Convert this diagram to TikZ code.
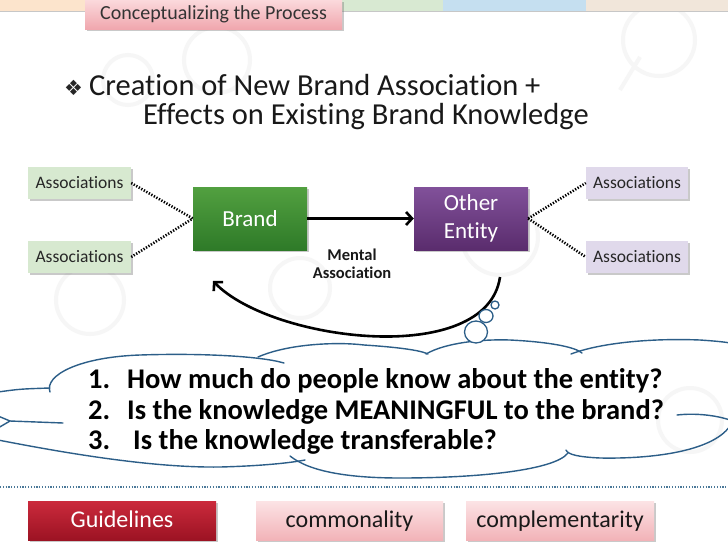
\documentclass[tikz,border=0pt]{standalone}
\usepackage{fontspec}
\setmainfont{Carlito}[Ligatures=NoCommon]
\newfontfamily\symfont{DejaVu Sans}
\usetikzlibrary{arrows.meta,shadows}
\definecolor{stripO}{HTML}{FCE4CC}
\definecolor{stripG}{HTML}{D8E9D2}
\definecolor{stripB}{HTML}{C5DFF0}
\definecolor{stripE}{HTML}{F1E6DA}
\definecolor{tabTop}{HTML}{FBD9DC}
\definecolor{tabBot}{HTML}{F0A7AE}
\definecolor{brandTop}{HTML}{52A040}
\definecolor{brandBot}{HTML}{2E7A28}
\definecolor{otherTop}{HTML}{81519A}
\definecolor{otherBot}{HTML}{5A2C6D}
\definecolor{assocG}{HTML}{D7E9D0}
\definecolor{assocP}{HTML}{E0D9EB}
\definecolor{guideTop}{HTML}{CB2A3C}
\definecolor{guideBot}{HTML}{9C1323}
\definecolor{pinkTop}{HTML}{FCE3E5}
\definecolor{pinkBot}{HTML}{F2B3B8}
\definecolor{cloudBlue}{HTML}{2C5E88}
\definecolor{decor}{HTML}{F6F6F6}
\definecolor{dotBlue}{HTML}{4A7898}
\tikzset{
  shad/.style={drop shadow={shadow xshift=1.5pt,shadow yshift=-1.5pt,opacity=0.35,fill=black!60}},
  assocbox/.style={shad,minimum height=32pt,inner sep=0pt,text height=11pt,text depth=1pt,font=\fontsize{17.5}{20}\selectfont,text=black!85},
  assocL/.style={assocbox,fill=assocG,minimum width=103pt},
  assocR/.style={assocbox,fill=assocP,minimum width=102pt},
  bigbox/.style={shad,minimum width=114pt,minimum height=63pt,inner sep=0pt,text=white,align=center,font=\fontsize{23}{28}\selectfont},
  botbox/.style={shad,minimum width=188pt,minimum height=39pt,inner sep=0pt,text height=15pt,text depth=2pt,font=\fontsize{24}{28}\selectfont},
  dotline/.style={line width=2.6pt,dash pattern=on 1.3pt off 1.6pt,black},
  thickarrow/.style={line width=2.6pt,-{Straight Barb[length=6pt,width=13pt,line width=2.6pt]}},
  cloudline/.style={cloudBlue,line width=1.4pt,line cap=round},
  bubble/.style={cloudBlue,line width=1.3pt,fill=white},
  qtext/.style={anchor=base west,inner sep=0pt,font=\bfseries\fontsize{28.5}{32}\selectfont}
}
\begin{document}
\begin{tikzpicture}[x=1pt,y=-1pt]
\useasboundingbox (0,0) rectangle (728,546);
\fill[white] (0,0) rectangle (728,546);
% faint background decoration
\begin{scope}[decor,line width=4pt]
\draw (217,60) circle (33pt);
\draw (128,80) circle (25pt);
\draw (659,40) circle (36pt);
\draw (640,57) -- (620,90);
\draw (300,288) circle (30pt);
\draw (500,237) circle (38pt);
\draw (90,300) circle (34pt);
\draw (690,420) circle (32pt);
\end{scope}
% top strips
\fill[stripO] (0,0) rectangle (85,11);
\fill[stripG] (342,0) rectangle (443,11);
\fill[stripB] (443,0) rectangle (586,11);
\fill[stripE] (586,0) rectangle (728,11);
\fill[black!22] (0,11) rectangle (728,12.3);
\node[shad,top color=tabTop,bottom color=tabBot,minimum width=257pt,minimum height=29pt,inner sep=0pt,
  text height=12.5pt,text depth=2pt,font=\fontsize{20}{22}\selectfont,text=black!80] (tab) at (213.5,14.5) {Conceptualizing the Process};
% title
\node[anchor=base west,inner sep=0pt,font=\symfont\fontsize{21}{24}\selectfont,text=black!85] (bul) at (64,95) {❖};
\node[anchor=base west,inner sep=0pt,font=\fontsize{30.5}{34}\selectfont,text=black!90] (t1) at (89,95) {Creation of New Brand Association +};
\node[anchor=base west,inner sep=0pt,font=\fontsize{30.5}{34}\selectfont,text=black!90] (t2) at (143,124) {Effects on Existing Brand Knowledge};
% associations
\node[assocL] (la1) at (79.5,183) {Associations};
\node[assocL] (la2) at (79.5,257) {Associations};
\node[assocR] (ra1) at (637,183) {Associations};
\node[assocR] (ra2) at (637,257) {Associations};
\node[bigbox,top color=brandTop,bottom color=brandBot] (brand) at (250,218.5) {Brand};
\node[bigbox,top color=otherTop,bottom color=otherBot] (other) at (471,218.5) {Other\\Entity};
\draw[dotline] (la1.east) -- (brand.west);
\draw[dotline] (la2.east) -- (brand.west);
\draw[dotline] (other.east) -- (ra1.west);
\draw[dotline] (other.east) -- (ra2.west);
\draw[thickarrow] (brand) -- (other);
\node[align=center,font=\bfseries\fontsize{16.5}{18.5}\selectfont,text=black!90] (ment) at (352,264) {Mental\\Association};
% curved arrow
\coordinate (cs) at (500,277);
\coordinate (ce) at (213,281);
\draw[thickarrow] (cs) .. controls (487,368) and (272,342) .. (ce);
% cloud
\begin{scope}[cloudline]
\draw (-2,392) .. controls (20,389) .. (50,388);
\draw (50,392) .. controls (44,375) and (80,357) .. (140,355) .. controls (200,353) and (260,356) .. (284,363);
\draw (258,357) .. controls (290,343) and (340,342) .. (364,345) .. controls (395,347) and (420,350) .. (428,354);
\draw (426,354) .. controls (445,343) and (480,339) .. (510,340) .. controls (550,342) and (575,347) .. (582,353);
\draw (571,354) .. controls (600,343) and (650,338) .. (700,340) .. controls (715,341) and (725,342) .. (730,343);
\draw (677,415) .. controls (695,413) and (715,415) .. (730,420);
\draw (730,426) .. controls (712,452) and (650,459) .. (600,458) .. controls (580,457) and (568,455) .. (566,450);
\draw (290,456) .. controls (310,472) and (350,478) .. (400,478) .. controls (480,478) and (555,470) .. (568,453);
\draw (-2,440) .. controls (60,452) and (150,468) .. (220,467) .. controls (260,466) and (290,463) .. (305,460);
\draw (-2,416) .. controls (4,419) .. (10,421) -- (63,423);
\draw (10,421) .. controls (4,424) .. (-2,428);
\end{scope}
% thought bubbles
\draw[bubble] (476,332) ellipse (11.5pt and 11pt);
\draw[bubble] (486,316) ellipse (7pt and 6.5pt);
\draw[bubble] (495,305) circle (4pt);
% questions
\node[qtext] (n1) at (88,388) {1.};
\node[qtext] (q1) at (127,388) {How much do people know about the entity?};
\node[qtext] (n2) at (88,419) {2.};
\node[qtext] (q2) at (127,419) {Is the knowledge MEANINGFUL to the brand?};
\node[qtext] (n3) at (88,449) {3.};
\node[qtext] (q3) at (133,449) {Is the knowledge transferable?};
% bottom
\draw[dotBlue,line width=2pt,dash pattern=on 1.2pt off 1.6pt] (0,487) -- (728,487);
\node[botbox,top color=guideTop,bottom color=guideBot,text=white] (guide) at (122,520.5) {Guidelines};
\node[botbox,top color=pinkTop,bottom color=pinkBot,minimum width=187pt,text=black!90] (comm) at (349.5,520.5) {commonality};
\node[botbox,top color=pinkTop,bottom color=pinkBot,text=black!90] (compl) at (560,520.5) {complementarity};
\end{tikzpicture}
\end{document}
